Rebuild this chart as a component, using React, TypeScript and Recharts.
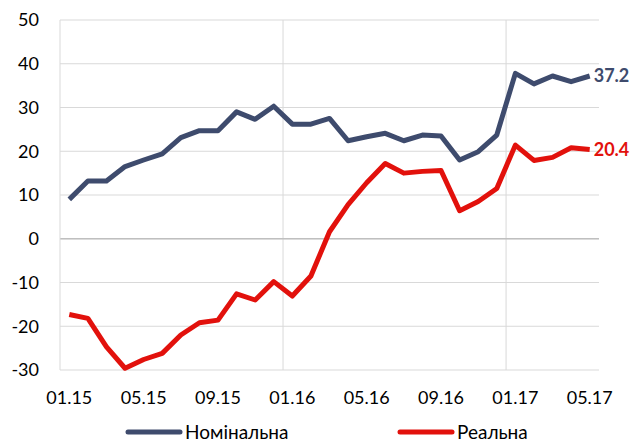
import React from 'react';
import {
  LineChart,
  Line,
  XAxis,
  YAxis,
  CartesianGrid,
  ReferenceLine,
  LabelList
} from 'recharts';

// Monthly periods 01.15 .. 05.17
const MONTHS = [
  '01.15', '02.15', '03.15', '04.15', '05.15', '06.15', '07.15', '08.15', '09.15', '10.15', '11.15', '12.15',
  '01.16', '02.16', '03.16', '04.16', '05.16', '06.16', '07.16', '08.16', '09.16', '10.16', '11.16', '12.16',
  '01.17', '02.17', '03.17', '04.17', '05.17'
];

const NOMINAL = [
  9.0, 13.2, 13.2, 16.5, 18.0, 19.4, 23.1, 24.7, 24.7, 29.0, 27.3, 30.3,
  26.2, 26.2, 27.5, 22.4, 23.3, 24.1, 22.4, 23.7, 23.5, 18.0, 19.9, 23.7,
  37.8, 35.4, 37.2, 35.9, 37.2
];

const REAL = [
  -17.3, -18.2, -24.7, -29.6, -27.6, -26.2, -22.0, -19.2, -18.6, -12.6, -14.0, -9.8,
  -13.1, -8.5, 1.6, 7.8, 12.8, 17.2, 15.0, 15.4, 15.6, 6.4, 8.5, 11.5,
  21.4, 17.9, 18.6, 20.8, 20.4
];

const X_TICKS = [0, 4, 8, 12, 16, 20, 24, 28];
const Y_TICKS = [-30, -20, -10, 0, 10, 20, 30, 40, 50];
// year boundaries (between Dec and Jan)
const YEAR_BREAKS = [11.5, 23.5];

const BLUE = '#3e4b6d';
const RED = '#e2110c';
const GRID = '#d9d9d9';
const FONT = 'Lato, "Open Sans", sans-serif';

const data = MONTHS.map((m, i) => ({ idx: i, month: m, nominal: NOMINAL[i], real: REAL[i] }));
const lastIdx = data.length - 1;

const endLabel = (color: string) => (props: any) => {
  const { x, y, index, value } = props;
  if (index !== lastIdx) return null;
  return (
    <text x={x + 4} y={y} dy="0.35em" fill={color} fontSize={18} fontWeight={700} fontFamily={FONT}>
      {Number(value).toFixed(1)}
    </text>
  );
};

const LegendItem = ({ color, label, left }: { color: string; label: string; left: number }) => (
  <div style={{ position: 'absolute', left, top: 421, height: 22, display: 'flex', alignItems: 'center' }}>
    <svg width={58} height={10}>
      <line x1={3} y1={5} x2={55} y2={5} stroke={color} strokeWidth={5} strokeLinecap="round" />
    </svg>
    <span style={{ marginLeft: 2, fontFamily: FONT, fontSize: 19, color: '#000', lineHeight: '22px' }}>{label}</span>
  </div>
);

export default function App() {
  return (
    <div style={{ position: 'absolute', left: 0, top: 0, width: 634, height: 445, background: '#fff', overflow: 'hidden' }}>
      <LineChart width={634} height={445} data={data} margin={{ top: 20, right: 35, bottom: 45, left: 0 }}>
        <CartesianGrid vertical={false} stroke={GRID} strokeWidth={1} />
        <XAxis
          dataKey="idx"
          type="number"
          domain={[-0.5, 28.5]}
          ticks={X_TICKS}
          tickFormatter={(v: number) => MONTHS[v]}
          axisLine={false}
          tickLine={false}
          tickSize={0}
          tickMargin={21}
          height={30}
          interval={0}
          tick={{ fill: '#000', fontSize: 18, fontFamily: FONT }}
        />
        <YAxis
          type="number"
          domain={[-30, 50]}
          ticks={Y_TICKS}
          width={60}
          axisLine={{ stroke: GRID }}
          tickLine={false}
          tickSize={0}
          tickMargin={21}
          interval={0}
          tick={{ fill: '#000', fontSize: 18, fontFamily: FONT }}
        />
        {YEAR_BREAKS.map((b) => (
          <ReferenceLine key={b} x={b} stroke={GRID} strokeWidth={1} />
        ))}
        <ReferenceLine y={0} stroke="#bfbfbf" strokeWidth={1.5} />
        <Line
          type="linear"
          dataKey="nominal"
          stroke={BLUE}
          strokeWidth={5}
          dot={false}
          strokeLinejoin="round"
          isAnimationActive={false}
        >
          <LabelList dataKey="nominal" content={endLabel(BLUE)} />
        </Line>
        <Line
          type="linear"
          dataKey="real"
          stroke={RED}
          strokeWidth={5}
          dot={false}
          strokeLinejoin="round"
          isAnimationActive={false}
        >
          <LabelList dataKey="real" content={endLabel(RED)} />
        </Line>
      </LineChart>
      <LegendItem color={BLUE} label="Номінальна" left={125} />
      <LegendItem color={RED} label="Реальна" left={397} />
    </div>
  );
}
